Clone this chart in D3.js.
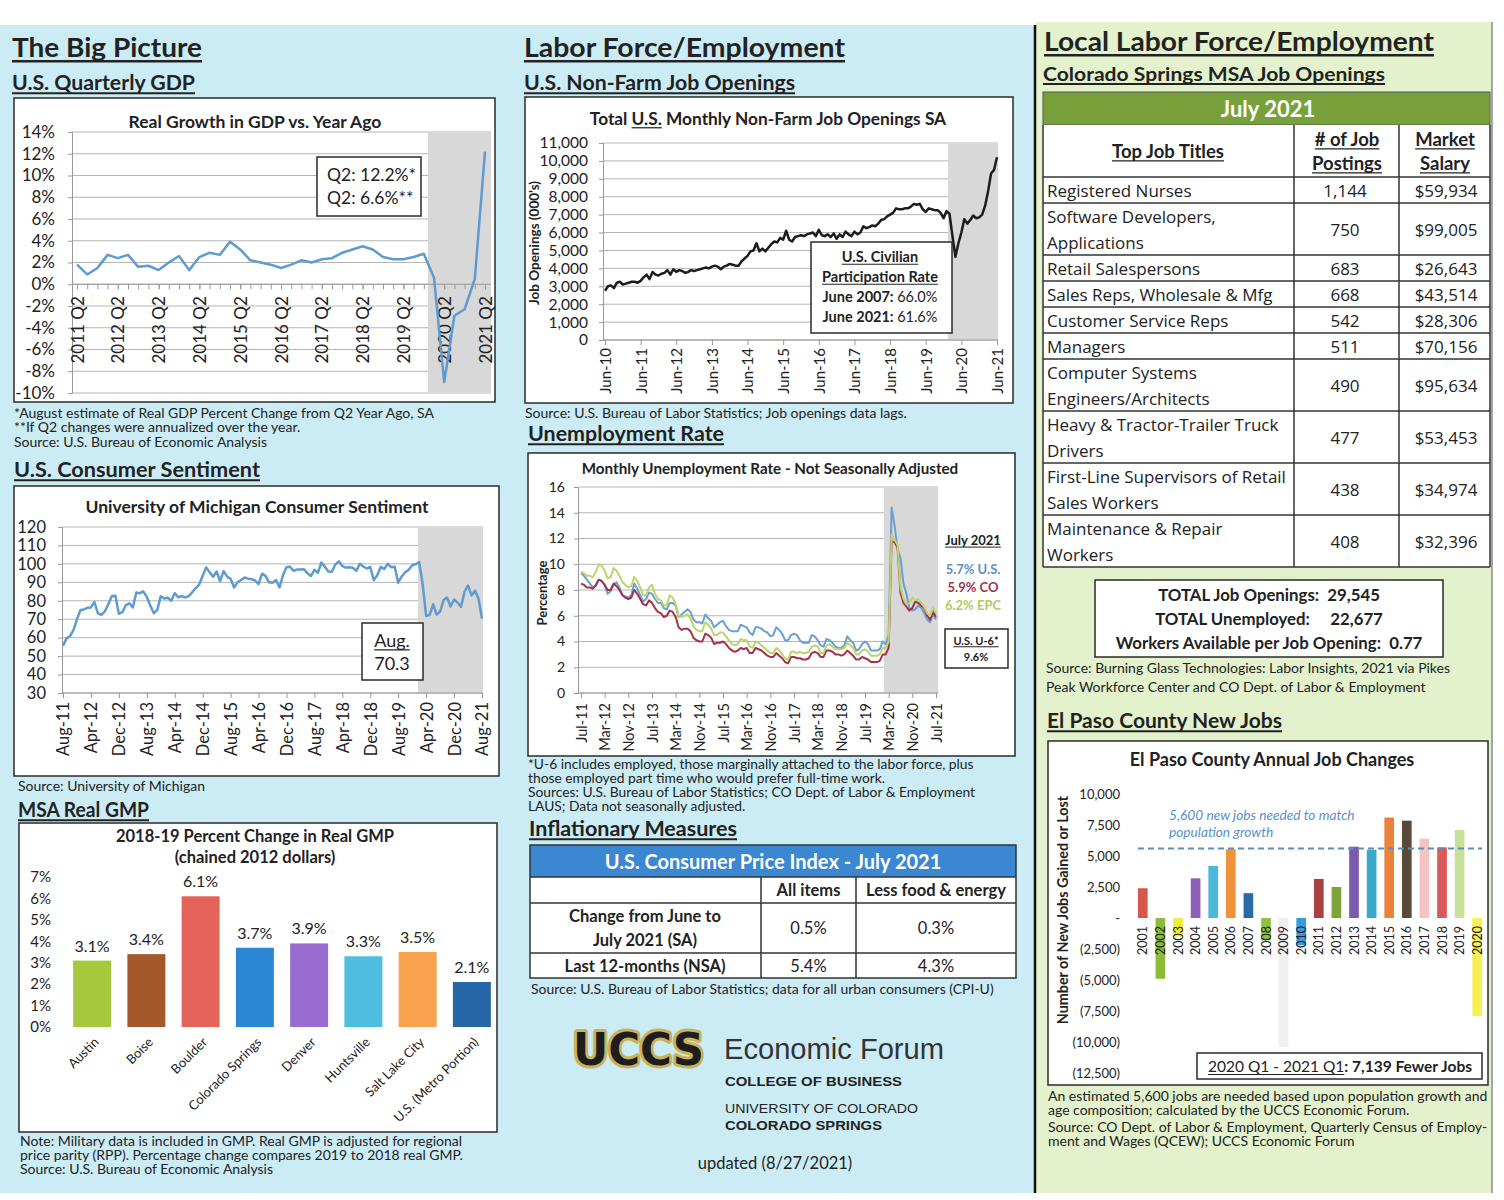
<!DOCTYPE html>
<html>
<head>
<meta charset="utf-8">
<script src="https://cdn.jsdelivr.net/npm/d3@7"></script>
<style>
body { margin: 0; background: #fff; }
svg text { font-family: Lato, 'Liberation Sans', sans-serif; fill: #222; white-space: pre; }
</style>
</head>
<body>
<script>
//data
var gdpTickLabels = ['2011 Q2', '2012 Q2', '2013 Q2', '2014 Q2', '2015 Q2', '2016 Q2', '2017 Q2', '2018 Q2', '2019 Q2', '2020 Q2', '2021 Q2'];
var gdpGrowth = [1.8, 0.9, 1.5, 2.7, 2.4, 2.7, 1.6, 1.7, 1.3, 2.0, 2.6, 1.3, 2.5, 2.9, 2.7, 3.9, 3.2, 2.2, 2.0, 1.8, 1.5,
    1.8, 2.2, 2.0, 2.3, 2.4, 2.9, 3.2, 3.5, 3.2, 2.5, 2.3, 2.3, 2.5, 2.8, 0.6, -9.0, -2.9, -2.3, 0.5, 12.2];

var sentTickLabels = ['Aug-11', 'Apr-12', 'Dec-12', 'Aug-13', 'Apr-14', 'Dec-14', 'Aug-15', 'Apr-16', 'Dec-16', 'Aug-17', 'Apr-18', 'Dec-18', 'Aug-19', 'Apr-20', 'Dec-20', 'Aug-21'];
var sentiment = [
    55.7, 59.5, 60.8, 64.1, 69.9,
    75.0, 75.3, 76.2, 76.4, 79.3, 73.2, 72.3, 74.3, 78.3, 82.6, 82.7, 72.9,
    73.8, 77.6, 78.6, 76.4, 84.5, 84.1, 85.1, 82.1, 77.5, 73.2, 75.1, 82.5,
    81.2, 81.6, 80.0, 84.1, 81.9, 82.5, 81.8, 82.5, 84.6, 86.9, 88.8, 93.6,
    98.1, 95.4, 93.0, 95.9, 90.7, 96.1, 93.1, 91.9, 87.2, 90.0, 91.3, 92.6,
    92.0, 91.7, 91.0, 89.0, 94.7, 93.5, 90.0, 89.8, 91.2, 87.2, 93.8, 98.2,
    98.5, 96.3, 96.9, 97.0, 97.1, 95.0, 93.4, 96.8, 95.1, 100.7, 98.5, 95.9,
    95.7, 99.7, 101.4, 98.8, 98.0, 98.2, 97.9, 96.2, 100.1, 98.6, 97.5, 98.3,
    91.2, 93.8, 98.4, 97.2, 100.0, 98.2, 98.4, 89.8, 93.2, 95.5, 96.8, 99.3,
    99.8, 101.0, 89.1, 71.8, 72.3, 78.1, 72.5, 74.1, 80.4, 81.8, 76.9, 80.7,
    79.0, 76.8, 84.9, 88.3, 82.9, 85.5, 81.2, 70.3];

var openingsTickLabels = ['Jun-10', 'Jun-11', 'Jun-12', 'Jun-13', 'Jun-14', 'Jun-15', 'Jun-16', 'Jun-17', 'Jun-18', 'Jun-19', 'Jun-20', 'Jun-21'];
var jobOpenings = [
    2750, 3000, 3050, 2900, 3200, 3250, 3100,
    3150, 3200, 3250, 3250, 3200, 3300, 3500, 3650, 3400, 3800, 3650, 3600,
    3700, 3750, 3900, 3650, 3950, 3800, 3900, 3850, 3750, 3800, 3900, 3850,
    3900, 3950, 4000, 4050, 4000, 4100, 4150, 4100, 3950, 4100, 4150, 4250,
    4200, 4150, 4150, 4400, 4550, 4700, 4950, 5000, 5400, 4950, 5100, 4950,
    5150, 5350, 5500, 5450, 5700, 5600, 6100, 5600, 5500, 5750, 5800, 5850,
    5800, 5900, 5950, 6000, 5800, 6150, 5850, 5800, 5900, 5750, 5950, 5650,
    5900, 5750, 6050, 5900, 5800, 6050, 5900, 6000, 6350, 6250, 6300, 6400,
    6350, 6500, 6700, 6750, 6900, 7000, 7100, 7350, 7300, 7300, 7350, 7350,
    7450, 7600, 7550, 7600, 7300, 7150, 7350, 7300, 7250, 7250, 7100, 6800,
    7200, 7050, 5800, 4650, 5400, 6000, 6750, 6500, 6700, 6950, 6800, 6850,
    7000, 7500, 8300, 9300, 9500, 10200];

var unempTickLabels = ['Jul-11', 'Mar-12', 'Nov-12', 'Jul-13', 'Mar-14', 'Nov-14', 'Jul-15', 'Mar-16', 'Nov-16', 'Jul-17', 'Mar-18', 'Nov-18', 'Jul-19', 'Mar-20', 'Nov-20', 'Jul-21'];
var unempUS = [
    9.3, 9.1, 8.8, 8.5, 8.2, 8.3,
    8.8, 8.7, 8.4, 7.7, 7.9, 8.4, 8.6, 8.2, 7.6, 7.5, 7.4, 7.6,
    8.5, 8.1, 7.6, 7.1, 7.3, 7.8, 7.7, 7.3, 7.0, 7.0, 6.6, 6.5,
    7.0, 7.0, 6.8, 5.9, 6.1, 6.3, 6.5, 6.3, 5.7, 5.5, 5.5, 5.4,
    6.1, 5.8, 5.6, 5.1, 5.3, 5.5, 5.6, 5.2, 4.9, 4.8, 4.8, 4.8,
    5.3, 5.2, 5.1, 4.7, 4.5, 5.1, 5.1, 5.0, 4.8, 4.7, 4.4, 4.5,
    5.1, 4.9, 4.6, 4.1, 4.1, 4.5, 4.6, 4.5, 4.1, 3.9, 3.9, 3.9,
    4.5, 4.4, 4.1, 3.7, 3.6, 4.2, 4.1, 3.9, 3.6, 3.5, 3.5, 3.7,
    4.4, 4.1, 3.9, 3.3, 3.4, 3.8, 4.0, 3.8, 3.3, 3.3, 3.3, 3.4,
    4.0, 3.8, 4.5, 14.4, 13.0, 11.2, 10.5, 8.5, 7.7, 6.6, 6.4, 6.5,
    6.8, 6.6, 6.2, 5.7, 5.5, 6.1, 5.7];
var unempCO = [
    8.5, 8.4, 8.2, 8.2, 8.1, 8.4,
    8.8, 8.7, 8.4, 8.0, 8.0, 8.5, 8.3, 8.0, 7.6, 7.4, 7.3, 7.4,
    8.0, 7.7, 7.3, 6.9, 6.8, 7.2, 7.0, 6.6, 6.3, 6.2, 5.9, 6.0,
    6.4, 6.3, 5.9, 5.1, 4.9, 5.0, 5.0, 4.8, 4.3, 4.1, 4.0, 4.0,
    4.6, 4.5, 4.3, 3.8, 3.9, 3.9, 4.0, 3.8, 3.5, 3.3, 3.2, 3.3,
    3.5, 3.4, 3.5, 3.1, 3.1, 3.5, 3.4, 3.3, 3.1, 2.9, 2.8, 2.8,
    3.1, 2.9, 2.7, 2.4, 2.3, 2.8, 2.8, 2.7, 2.7, 2.6, 2.6, 2.7,
    3.1, 3.2, 3.1, 2.8, 2.8, 3.3, 3.3, 3.2, 3.0, 3.0, 2.9, 3.0,
    3.3, 3.1, 2.9, 2.6, 2.6, 2.8, 2.7, 2.6, 2.4, 2.4, 2.4, 2.5,
    3.0, 3.0, 3.5, 11.8, 11.7, 11.3, 7.8, 7.0, 6.7, 6.4, 6.6, 7.1,
    7.0, 6.8, 6.6, 6.0, 5.7, 6.3, 5.9];
var unempEPC = [
    9.4, 9.3, 9.1, 9.1, 9.0, 9.4,
    10.0, 9.9, 9.5, 8.9, 9.0, 9.7, 9.5, 9.1, 8.6, 8.4, 8.2, 8.3,
    9.0, 8.7, 8.2, 7.6, 7.6, 8.2, 8.4, 7.7, 7.3, 7.2, 6.8, 6.8,
    7.6, 7.4, 6.9, 6.0, 5.9, 6.0, 6.1, 5.8, 5.2, 4.9, 4.8, 4.8,
    5.5, 5.3, 5.0, 4.5, 4.5, 4.7, 4.7, 4.4, 4.1, 3.8, 3.7, 3.8,
    4.2, 4.1, 4.1, 3.6, 3.5, 4.0, 3.9, 3.7, 3.5, 3.3, 3.1, 3.1,
    3.5, 3.3, 3.0, 2.7, 2.6, 3.2, 3.2, 3.1, 3.2, 3.1, 3.1, 3.2,
    3.6, 3.7, 3.6, 3.1, 3.1, 3.7, 3.8, 3.6, 3.4, 3.4, 3.4, 3.5,
    3.9, 3.7, 3.5, 3.0, 3.0, 3.3, 3.4, 3.2, 2.9, 2.9, 2.9, 3.0,
    3.5, 3.5, 4.0, 12.3, 11.9, 11.5, 8.2, 7.3, 6.9, 7.0, 7.4, 7.2,
    7.3, 7.0, 6.7, 6.2, 6.0, 6.6, 6.2];

var gmpCities = ['Austin', 'Boise', 'Boulder', 'Colorado Springs', 'Denver', 'Huntsville', 'Salt Lake City', 'U.S. (Metro Portion)'];
var gmpChange = [3.1, 3.4, 6.1, 3.7, 3.9, 3.3, 3.5, 2.1];
var gmpColors = ['#a5c83c', '#a5582c', '#e4645a', '#2a87d6', '#9a6bd0', '#4dbedd', '#f7a24c', '#2566a6'];

var cpiColumns = ['All items', 'Less food & energy'];
var cpiRowLabels = [['Change from June to', 'July 2021 (SA)'], ['Last 12-months (NSA)']];
var cpiAllItems = ['0.5%', '5.4%'];
var cpiCore = ['0.3%', '4.3%'];

var jobTitles = [
    ['Registered Nurses'],
    ['Software Developers,', 'Applications'],
    ['Retail Salespersons'],
    ['Sales Reps, Wholesale & Mfg'],
    ['Customer Service Reps'],
    ['Managers'],
    ['Computer Systems', 'Engineers/Architects'],
    ['Heavy & Tractor-Trailer Truck', 'Drivers'],
    ['First-Line Supervisors of Retail', 'Sales Workers'],
    ['Maintenance & Repair', 'Workers']
];
var jobPostings = [1144, 750, 683, 668, 542, 511, 490, 477, 438, 408];
var jobSalaries = [59934, 99005, 26643, 43514, 28306, 70156, 95634, 53453, 34974, 32396];

var epYears = ['2001', '2002', '2003', '2004', '2005', '2006', '2007', '2008', '2009', '2010',
    '2011', '2012', '2013', '2014', '2015', '2016', '2017', '2018', '2019', '2020'];
var epJobChange = [2400, -4900, -1500, 3200, 4200, 5550, 2000, -1800, -10400, -2200,
    3150, 2500, 5750, 5500, 8100, 7850, 6400, 5700, 7100, -7900];
var epColors = ['#d9564f', '#8dbb3c', '#f2ea3c', '#8c62b9', '#4cb9da', '#f0923c', '#2b6aa8', '#8cc43f', '#efefef', '#3a9ade',
    '#a8413f', '#7ea53a', '#7b5cac', '#3aa9c9', '#ea823a', '#574a3a', '#f4c3c3', '#d95b5b', '#c8e19a', '#f5f152'];
var epNeeded = 5600;
//end data

var svg = d3.select('body').append('svg').attr('width', 1504).attr('height', 1200);

//text helper: parts = [{t, b, u}]
function rich(parent, x, y, parts, size, opts) {
    opts = opts || {};
    var color = opts.fill || '#222';
    var t = parent.append('text').attr('x', x).attr('y', y)
        .attr('text-anchor', opts.anchor || 'start')
        .style('font-size', size + 'px')
        .style('fill', color);
    if (opts.family) t.style('font-family', opts.family);
    if (opts.italic) t.style('font-style', 'italic');
    if (opts.rotate) t.attr('transform', 'rotate(' + opts.rotate + ',' + x + ',' + y + ')');
    parts.forEach(function (p) {
        t.append('tspan').text(p.t).style('font-weight', p.b ? 700 : 400);
    });
    if (opts.len) t.attr('textLength', opts.len).attr('lengthAdjust', 'spacingAndGlyphs');
    var node = t.node(), pos = 0;
    parts.forEach(function (p) {
        if (p.u && p.t.length) {
            var x0 = node.getStartPositionOfChar(pos).x;
            var x1 = node.getEndPositionOfChar(pos + p.t.length - 1).x;
            var off = size * 0.16;
            parent.append('line').attr('x1', x0).attr('x2', x1)
                .attr('y1', y + off).attr('y2', y + off)
                .attr('stroke', color).attr('stroke-width', opts.uw || Math.max(1, size / 14));
        }
        pos += p.t.length;
    });
    return t;
}
function txt(parent, x, y, str, size, opts) {
    opts = opts || {};
    return rich(parent, x, y, [{t: str, b: opts.bold, u: opts.underline}], size, opts);
}
function frame(x, y, w, h, fill) {
    return svg.append('rect').attr('x', x).attr('y', y).attr('width', w).attr('height', h)
        .attr('fill', fill || '#fff').attr('stroke', '#2a2a2a').attr('stroke-width', 1.5);
}

//page background
svg.append('rect').attr('x', 0).attr('y', 25).attr('width', 1036).attr('height', 1168).attr('fill', '#cbecf5');
svg.append('rect').attr('x', 1036).attr('y', 22).attr('width', 456).attr('height', 1171).attr('fill', '#e3f2cd');
svg.append('line').attr('x1', 1035).attr('x2', 1035).attr('y1', 25).attr('y2', 1193).attr('stroke', '#111').attr('stroke-width', 2.5);
svg.append('line').attr('x1', 1492).attr('x2', 1492).attr('y1', 22).attr('y2', 1193).attr('stroke', '#888').attr('stroke-width', 1.5);

//line charts
function timeChart(c) {
    var g = svg.append('g');
    var n = c.series[0].values.length;
    var x = d3.scaleLinear().domain([0, n - 1]).range(c.xRange);
    var y = d3.scaleLinear().domain(c.yDomain).range([c.bottom, c.top]);
    g.append('g').selectAll('line').data(c.yTicks).enter().append('line')
        .attr('x1', c.left).attr('x2', c.right)
        .attr('y1', function (d) { return y(d); })
        .attr('y2', function (d) { return y(d); })
        .attr('stroke', '#b4b4b4').attr('stroke-width', 1);
    g.append('rect').attr('x', x(c.shadeFrom)).attr('y', c.top)
        .attr('width', c.right - x(c.shadeFrom)).attr('height', c.bottom - c.top)
        .attr('fill', '#d8d8d8');
    var yAxis = g.append('g').attr('transform', 'translate(' + c.left + ',0)')
        .call(d3.axisLeft(y).tickValues(c.yTicks).tickFormat(c.yFormat).tickSize(4).tickPadding(c.yPad));
    yAxis.select('.domain').attr('stroke', '#999');
    yAxis.selectAll('.tick line').attr('stroke', '#999');
    yAxis.selectAll('text').style('font-size', c.yFont + 'px');
    var axY = y(c.axisAt);
    g.append('line').attr('x1', c.left).attr('x2', c.right).attr('y1', axY).attr('y2', axY)
        .attr('stroke', '#999').attr('stroke-width', 1);
    if (c.minor) {
        var mAxis = g.append('g').attr('transform', 'translate(0,' + axY + ')')
            .call(d3.axisBottom(x).tickValues(d3.range(0, n)).tickFormat('').tickSize(5));
        mAxis.select('.domain').remove();
        mAxis.selectAll('.tick line').attr('stroke', '#999');
    }
    var idx = c.tickLabels.map(function (d, i) { return i * c.tickStep; });
    var xAxis = g.append('g').attr('transform', 'translate(0,' + axY + ')')
        .call(d3.axisBottom(x).tickValues(idx)
            .tickFormat(function (d, i) { return c.tickLabels[i]; }).tickSize(5));
    xAxis.select('.domain').remove();
    xAxis.selectAll('.tick line').attr('stroke', '#999');
    xAxis.selectAll('text')
        .attr('transform', 'rotate(-90)')
        .attr('x', -c.labelGap).attr('y', 0).attr('dy', '0.36em')
        .style('text-anchor', 'end')
        .style('font-size', c.xFont + 'px');
    var line = d3.line()
        .x(function (d, i) { return x(i); })
        .y(function (d) { return y(d); });
    c.series.forEach(function (s) {
        g.append('path').datum(s.values)
            .attr('fill', 'none').attr('stroke', s.color)
            .attr('stroke-width', s.width || 2.5)
            .attr('stroke-linejoin', 'round')
            .attr('d', line);
    });
    return g;
}

// ---------- column 1 ----------
txt(svg, 12, 57, 'The Big Picture', 26, {bold: true, underline: true, len: 190, uw: 2.5});
txt(svg, 12, 90, 'U.S. Quarterly GDP', 20, {bold: true, underline: true, len: 183, uw: 2});

frame(14, 98, 481, 304);
txt(svg, 255, 128, 'Real Growth in GDP vs. Year Ago', 17.5, {bold: true, anchor: 'middle'});
timeChart({
    left: 72, right: 491, top: 132, bottom: 393, xRange: [77, 485],
    yDomain: [-10, 14], yTicks: d3.range(-10, 15, 2), yFormat: function (d) { return d + '%'; },
    yPad: 13, yFont: 17, axisAt: 0, minor: true,
    tickLabels: gdpTickLabels, tickStep: 4, labelGap: 12, xFont: 17,
    shadeFrom: 34.4,
    series: [{values: gdpGrowth, color: '#5f9bd0', width: 2.5}]
});
frame(317, 157, 104, 59);
txt(svg, 327, 181, 'Q2: 12.2%*', 17.5);
txt(svg, 327, 204, 'Q2: 6.6%**', 17.5);
txt(svg, 14, 418, '*August estimate of Real GDP Percent Change from Q2 Year Ago, SA', 14);
txt(svg, 14, 432, '**If Q2 changes were annualized over the year.', 14);
txt(svg, 14, 447, 'Source: U.S. Bureau of Economic Analysis', 14);

txt(svg, 14, 477, 'U.S. Consumer Sentiment', 20, {bold: true, underline: true, len: 246, uw: 2});
frame(14, 486, 485, 290);
txt(svg, 257, 513, 'University of Michigan Consumer Sentiment', 17.5, {bold: true, anchor: 'middle'});
timeChart({
    left: 62, right: 483, top: 527, bottom: 693, xRange: [63, 482],
    yDomain: [30, 120], yTicks: d3.range(30, 121, 10), yFormat: function (d) { return d; },
    yPad: 12, yFont: 16.5, axisAt: 30,
    tickLabels: sentTickLabels, tickStep: 8, labelGap: 9, xFont: 16.5,
    shadeFrom: 101.7,
    series: [{values: sentiment, color: '#5f9bd0', width: 2.5}]
});
frame(362, 623, 61, 57);
txt(svg, 392, 647, 'Aug.', 18, {anchor: 'middle', underline: true});
txt(svg, 392, 670, '70.3', 18, {anchor: 'middle'});
txt(svg, 18, 791, 'Source: University of Michigan', 14);

txt(svg, 18, 817, 'MSA Real GMP', 20, {bold: true, underline: true, len: 131, uw: 2});
frame(19, 823, 478, 309);
txt(svg, 255, 842, '2018-19 Percent Change in Real GMP', 16.5, {bold: true, anchor: 'middle'});
txt(svg, 255, 863, '(chained 2012 dollars)', 16.5, {bold: true, anchor: 'middle'});

var gmpX = d3.scaleBand().domain(gmpCities).range([65, 499]).paddingInner(0.3).paddingOuter(0.15);
var gmpY = d3.scaleLinear().domain([0, 7]).range([1027, 877]);
var gGmp = svg.append('g');
var gmpAxis = gGmp.append('g').attr('transform', 'translate(58,0)')
    .call(d3.axisLeft(gmpY).ticks(7).tickFormat(function (d) { return d + '%'; }).tickSize(0).tickPadding(7));
gmpAxis.select('.domain').remove();
gmpAxis.selectAll('text').style('font-size', '15px');
gGmp.selectAll('rect.bar').data(gmpChange).enter().append('rect')
    .attr('class', 'bar')
    .attr('x', function (d, i) { return gmpX(gmpCities[i]); })
    .attr('y', function (d) { return gmpY(d); })
    .attr('width', gmpX.bandwidth())
    .attr('height', function (d) { return gmpY(0) - gmpY(d); })
    .attr('fill', function (d, i) { return gmpColors[i]; });
gGmp.selectAll('text.val').data(gmpChange).enter().append('text')
    .attr('class', 'val')
    .attr('x', function (d, i) { return gmpX(gmpCities[i]) + gmpX.bandwidth() / 2; })
    .attr('y', function (d) { return gmpY(d) - 9; })
    .attr('text-anchor', 'middle')
    .style('font-size', '16px')
    .text(function (d) { return d3.format('.1f')(d) + '%'; });
var gmpXAxis = gGmp.append('g').attr('transform', 'translate(0,' + gmpY(0) + ')')
    .call(d3.axisBottom(gmpX).tickSize(0));
gmpXAxis.select('.domain').remove();
gmpXAxis.selectAll('text')
    .attr('transform', 'rotate(-45)')
    .attr('x', -6).attr('y', 12).attr('dy', '0.35em')
    .style('text-anchor', 'end')
    .style('font-size', '13px');
txt(svg, 20, 1146, 'Note: Military data is included in GMP. Real GMP is adjusted for regional', 14);
txt(svg, 20, 1160, 'price parity (RPP). Percentage change compares 2019 to 2018 real GMP.', 14);
txt(svg, 20, 1174, 'Source: U.S. Bureau of Economic Analysis', 14);

// ---------- column 2 ----------
txt(svg, 524, 57, 'Labor Force/Employment', 26, {bold: true, underline: true, len: 321, uw: 2.5});
txt(svg, 524, 90, 'U.S. Non-Farm Job Openings', 20, {bold: true, underline: true, len: 271, uw: 2});

frame(525, 97, 488, 306);
rich(svg, 768, 125, [{t: 'Total ', b: true}, {t: 'U.S.', b: true, u: true}, {t: ' Monthly Non-Farm Job Openings SA', b: true}], 17.3, {anchor: 'middle'});
timeChart({
    left: 603, right: 998, top: 143, bottom: 340, xRange: [605, 997],
    yDomain: [0, 11000], yTicks: d3.range(0, 11001, 1000), yFormat: d3.format(','),
    yPad: 11, yFont: 15.5, axisAt: 0,
    tickLabels: openingsTickLabels, tickStep: 12, labelGap: 8, xFont: 15,
    shadeFrom: 115.5,
    series: [{values: jobOpenings, color: '#1c1c1c', width: 2.5}]
});
txt(svg, 539, 243, "Job Openings (000's)", 13.5, {bold: true, anchor: 'middle', rotate: -90});
frame(811, 242, 141, 91);
txt(svg, 880, 262, 'U.S. Civilian', 14.5, {bold: true, underline: true, anchor: 'middle'});
txt(svg, 880, 282, 'Participation Rate', 14.5, {bold: true, underline: true, anchor: 'middle'});
rich(svg, 880, 302, [{t: 'June 2007: ', b: true}, {t: '66.0%'}], 14.5, {anchor: 'middle'});
rich(svg, 880, 322, [{t: 'June 2021: ', b: true}, {t: '61.6%'}], 14.5, {anchor: 'middle'});
txt(svg, 525, 418, 'Source: U.S. Bureau of Labor Statistics; Job openings data lags.', 14);

txt(svg, 528, 441, 'Unemployment Rate', 20, {bold: true, underline: true, len: 196, uw: 2});
frame(528, 453, 487, 303);
txt(svg, 770, 474, 'Monthly Unemployment Rate - Not Seasonally Adjusted', 15.2, {bold: true, anchor: 'middle'});
timeChart({
    left: 578, right: 938, top: 487, bottom: 693, xRange: [581, 936],
    yDomain: [0, 16], yTicks: d3.range(0, 17, 2), yFormat: function (d) { return d; },
    yPad: 9, yFont: 14, axisAt: 0,
    tickLabels: unempTickLabels, tickStep: 8, labelGap: 10, xFont: 14.5,
    shadeFrom: 102.4,
    series: [
        {values: unempUS, color: '#6a9fd6', width: 2},
        {values: unempCO, color: '#a3334a', width: 2},
        {values: unempEPC, color: '#bcd56a', width: 2}
    ]
});
txt(svg, 547, 593, 'Percentage', 13, {bold: true, anchor: 'middle', rotate: -90});
txt(svg, 973, 545, 'July 2021', 13, {bold: true, underline: true, anchor: 'middle'});
txt(svg, 973, 574, '5.7% U.S.', 13, {bold: true, anchor: 'middle', fill: '#5b8fc9'});
txt(svg, 973, 592, '5.9% CO', 13, {bold: true, anchor: 'middle', fill: '#9e3450'});
txt(svg, 973, 610, '6.2% EPC', 13, {bold: true, anchor: 'middle', fill: '#b2cb5c'});
frame(945, 629, 63, 39);
txt(svg, 976, 645, 'U.S. U-6*', 11, {bold: true, underline: true, anchor: 'middle'});
txt(svg, 976, 661, '9.6%', 11, {bold: true, anchor: 'middle'});
txt(svg, 528, 769, '*U-6 includes employed, those marginally attached to the labor force, plus', 13.8);
txt(svg, 528, 783, 'those employed part time who would prefer full-time work.', 13.8);
txt(svg, 528, 797, 'Sources: U.S. Bureau of Labor Statistics; CO Dept. of Labor & Employment', 13.8);
txt(svg, 528, 811, 'LAUS; Data not seasonally adjusted.', 13.8);

txt(svg, 529, 836, 'Inflationary Measures', 20, {bold: true, underline: true, len: 208, uw: 2});
var cpiColX = [530, 761, 856, 1016];
var cpiRowY = [845, 877, 903, 953, 978];
svg.append('rect').attr('x', 530).attr('y', 845).attr('width', 486).attr('height', 32).attr('fill', '#3b87d2');
svg.append('rect').attr('x', 530).attr('y', 877).attr('width', 486).attr('height', 101).attr('fill', '#fff');
txt(svg, 773, 869, 'U.S. Consumer Price Index - July 2021', 20, {bold: true, anchor: 'middle', fill: '#fff'});
[877, 903, 953].forEach(function (yy) {
    svg.append('line').attr('x1', 530).attr('x2', 1016).attr('y1', yy).attr('y2', yy).attr('stroke', '#333').attr('stroke-width', 1.5);
});
[761, 856].forEach(function (xx) {
    svg.append('line').attr('x1', xx).attr('x2', xx).attr('y1', 877).attr('y2', 978).attr('stroke', '#333').attr('stroke-width', 1.5);
});
svg.append('rect').attr('x', 530).attr('y', 845).attr('width', 486).attr('height', 133)
    .attr('fill', 'none').attr('stroke', '#333').attr('stroke-width', 1.5);
cpiColumns.forEach(function (c, i) {
    txt(svg, (cpiColX[i + 1] + cpiColX[i + 2]) / 2, 896, c, 16.5, {bold: true, anchor: 'middle'});
});
cpiRowLabels.forEach(function (lines, r) {
    var top = cpiRowY[r + 2], bot = cpiRowY[r + 3], mid = (top + bot) / 2;
    lines.forEach(function (l, k) {
        txt(svg, 645, mid + 6 + (k - (lines.length - 1) / 2) * 24, l, 16.5, {bold: true, anchor: 'middle'});
    });
    txt(svg, (cpiColX[1] + cpiColX[2]) / 2, mid + 6, cpiAllItems[r], 16.5, {anchor: 'middle'});
    txt(svg, (cpiColX[2] + cpiColX[3]) / 2, mid + 6, cpiCore[r], 16.5, {anchor: 'middle'});
});
txt(svg, 531, 994, 'Source: U.S. Bureau of Labor Statistics; data for all urban consumers (CPI-U)', 14);

//logo
svg.append('text').attr('x', 573).attr('y', 1065)
    .attr('textLength', 131).attr('lengthAdjust', 'spacingAndGlyphs')
    .style('font-family', "'DejaVu Sans', sans-serif").style('font-weight', 700).style('font-size', '44px')
    .style('fill', '#1d1d1d').style('stroke', '#c8b35c').style('stroke-width', 6)
    .style('paint-order', 'stroke').style('stroke-linejoin', 'round')
    .text('UCCS');
txt(svg, 724, 1059, 'Economic Forum', 30, {family: "'Liberation Sans', Arial, sans-serif", fill: '#333', len: 220});
txt(svg, 725, 1086, 'COLLEGE OF BUSINESS', 13.5, {family: "'Liberation Sans', Arial, sans-serif", bold: true, len: 177});
txt(svg, 725, 1113, 'UNIVERSITY OF COLORADO', 13.5, {family: "'Liberation Sans', Arial, sans-serif", len: 193});
txt(svg, 725, 1130, 'COLORADO SPRINGS', 13.5, {family: "'Liberation Sans', Arial, sans-serif", bold: true, len: 157});
txt(svg, 775, 1169, 'updated (8/27/2021)', 16.5, {anchor: 'middle'});

// ---------- column 3 ----------
txt(svg, 1044, 51, 'Local Labor Force/Employment', 26, {bold: true, underline: true, len: 390, uw: 2.5});
txt(svg, 1043, 81, 'Colorado Springs MSA Job Openings', 18, {bold: true, underline: true, len: 342, uw: 2});

var tColX = [1043, 1294, 1399, 1490];
svg.append('rect').attr('x', 1043).attr('y', 92).attr('width', 447).attr('height', 33).attr('fill', '#78a13c')
    .attr('stroke', '#555').attr('stroke-width', 1);
txt(svg, 1268, 117, 'July 2021', 22, {bold: true, anchor: 'middle', fill: '#fff'});
var lineH = 26, tableTop = 177;
var rowTops = [tableTop];
jobTitles.forEach(function (lines, i) { rowTops.push(rowTops[i] + lines.length * lineH); });
var gTable = svg.append('g');
gTable.append('rect').attr('x', 1043).attr('y', 125).attr('width', 447).attr('height', rowTops[rowTops.length - 1] - 125)
    .attr('fill', '#fff');
rowTops.forEach(function (yy) {
    gTable.append('line').attr('x1', 1043).attr('x2', 1490).attr('y1', yy).attr('y2', yy).attr('stroke', '#333').attr('stroke-width', 1.5);
});
tColX.forEach(function (xx) {
    gTable.append('line').attr('x1', xx).attr('x2', xx).attr('y1', 125).attr('y2', rowTops[rowTops.length - 1]).attr('stroke', '#333').attr('stroke-width', 1.5);
});
txt(gTable, 1168, 158, 'Top Job Titles', 18.5, {bold: true, underline: true, anchor: 'middle'});
txt(gTable, 1347, 146, '# of Job', 18.5, {bold: true, underline: true, anchor: 'middle'});
txt(gTable, 1347, 170, 'Postings', 18.5, {bold: true, underline: true, anchor: 'middle'});
txt(gTable, 1445, 146, 'Market', 18.5, {bold: true, underline: true, anchor: 'middle'});
txt(gTable, 1445, 170, 'Salary', 18.5, {bold: true, underline: true, anchor: 'middle'});
var tFont = "'Open Sans', 'Noto Sans', sans-serif";
jobTitles.forEach(function (lines, i) {
    var top = rowTops[i], mid = (rowTops[i] + rowTops[i + 1]) / 2;
    lines.forEach(function (l, k) {
        txt(gTable, 1047, top + 19.5 + k * lineH, l, 17, {family: tFont});
    });
    txt(gTable, 1345, mid + 6.5, d3.format(',')(jobPostings[i]), 17, {family: tFont, anchor: 'middle'});
    txt(gTable, 1446, mid + 6.5, '$' + d3.format(',')(jobSalaries[i]), 17, {family: tFont, anchor: 'middle'});
});

frame(1095, 580, 348, 77);
rich(svg, 1269, 601, [{t: 'TOTAL Job Openings:  29,545', b: true}], 16.8, {anchor: 'middle'});
rich(svg, 1269, 625, [{t: 'TOTAL Unemployed:     22,677', b: true}], 16.8, {anchor: 'middle'});
rich(svg, 1269, 649, [{t: 'Workers Available per Job Opening:  0.77', b: true}], 16.8, {anchor: 'middle'});
txt(svg, 1046, 673, 'Source: Burning Glass Technologies: Labor Insights, 2021 via Pikes', 14);
txt(svg, 1046, 692, 'Peak Workforce Center and CO Dept. of Labor & Employment', 14);

txt(svg, 1047, 728, 'El Paso County New Jobs', 20, {bold: true, underline: true, len: 235, uw: 2});
frame(1048, 741, 440, 344);
txt(svg, 1272, 766, 'El Paso County Annual Job Changes', 18, {bold: true, anchor: 'middle'});
txt(svg, 1068, 910, 'Number of New Jobs Gained or Lost', 14.3, {bold: true, anchor: 'middle', rotate: -90});

var epX = d3.scaleBand().domain(epYears).range([1134, 1486]).paddingInner(0.45).paddingOuter(0.225);
var epY = d3.scaleLinear().domain([-12500, 10000]).range([1073, 794]);
var gEp = svg.append('g');
var epAxis = gEp.append('g').attr('transform', 'translate(1127,0)')
    .call(d3.axisLeft(epY).tickValues(d3.range(-12500, 10001, 2500)).tickSize(0).tickPadding(7)
        .tickFormat(function (d) {
            if (d === 0) return '-';
            return d < 0 ? '(' + d3.format(',')(-d) + ')' : d3.format(',')(d);
        }));
epAxis.select('.domain').remove();
epAxis.selectAll('text').style('font-size', '13px');
gEp.selectAll('rect.bar').data(epJobChange).enter().append('rect')
    .attr('class', 'bar')
    .attr('x', function (d, i) { return epX(epYears[i]); })
    .attr('y', function (d) { return epY(Math.max(0, d)); })
    .attr('width', epX.bandwidth())
    .attr('height', function (d) { return Math.abs(epY(d) - epY(0)); })
    .attr('fill', function (d, i) { return epColors[i]; });
var epXAxis = gEp.append('g').attr('transform', 'translate(0,' + epY(0) + ')')
    .call(d3.axisBottom(epX).tickSize(0));
epXAxis.select('.domain').remove();
epXAxis.selectAll('text')
    .attr('transform', 'rotate(-90)')
    .attr('x', -8).attr('y', 0).attr('dy', '0.36em')
    .style('text-anchor', 'end')
    .style('font-size', '12.5px');
gEp.append('line')
    .attr('x1', epX(epYears[0])).attr('x2', epX(epYears[epYears.length - 1]) + epX.bandwidth())
    .attr('y1', epY(epNeeded)).attr('y2', epY(epNeeded))
    .attr('stroke', '#5a8fbc').attr('stroke-width', 2).attr('stroke-dasharray', '6,4');
txt(svg, 1169, 820, '5,600 new jobs needed to match', 13.7, {italic: true, fill: '#5a8fc8'});
txt(svg, 1169, 837, 'population growth', 13.7, {italic: true, fill: '#5a8fc8'});
frame(1197, 1053, 285, 26);
rich(svg, 1340, 1072, [{t: '2020 Q1 - 2021 Q1', u: true}, {t: ': 7,139 Fewer Jobs', b: true}], 15.5, {anchor: 'middle'});
txt(svg, 1048, 1101, 'An estimated 5,600 jobs are needed based upon population growth and', 14);
txt(svg, 1048, 1115, 'age composition; calculated by the UCCS Economic Forum.', 14);
txt(svg, 1048, 1132, 'Source: CO Dept. of Labor & Employment, Quarterly Census of Employ-', 14);
txt(svg, 1048, 1146, 'ment and Wages (QCEW); UCCS Economic Forum', 14);
</script>
</body>
</html>
